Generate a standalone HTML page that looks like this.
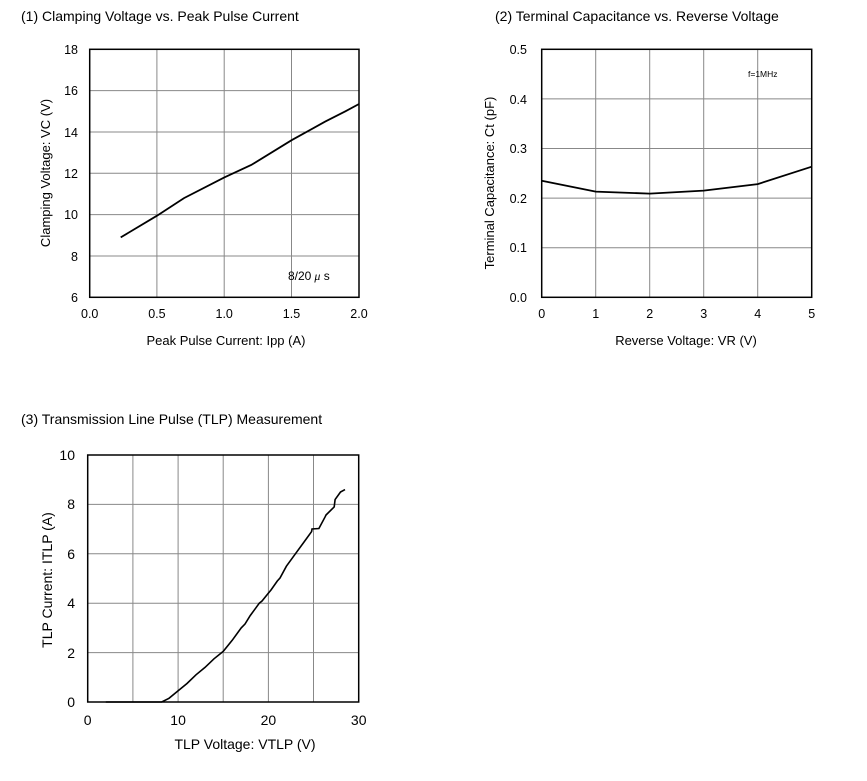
<!DOCTYPE html>
<html><head><meta charset="utf-8"><style>html,body{margin:0;padding:0;background:#fff;}svg{display:block}text{font-family:"Liberation Sans",Arial,sans-serif;fill:#000}</style></head><body>
<svg width="867" height="781" viewBox="0 0 867 781" xmlns="http://www.w3.org/2000/svg">
<g font-size="14">
<text x="21" y="21">(1) Clamping Voltage vs. Peak Pulse Current</text>
<text x="495" y="21">(2) Terminal Capacitance vs. Reverse Voltage</text>
<text x="21" y="424">(3) Transmission Line Pulse (TLP) Measurement</text>
</g>
<!-- Chart 1 -->
<g stroke="#888" stroke-width="1">
<line x1="156.9" y1="49.3" x2="156.9" y2="297.3"/><line x1="224.2" y1="49.3" x2="224.2" y2="297.3"/><line x1="291.5" y1="49.3" x2="291.5" y2="297.3"/>
<line x1="89.7" y1="90.6" x2="359" y2="90.6"/><line x1="89.7" y1="132" x2="359" y2="132"/><line x1="89.7" y1="173.3" x2="359" y2="173.3"/><line x1="89.7" y1="214.6" x2="359" y2="214.6"/><line x1="89.7" y1="256" x2="359" y2="256"/>
</g>
<rect x="89.7" y="49.3" width="269.3" height="248" fill="none" stroke="#000" stroke-width="1.5"/>
<polyline fill="none" stroke="#000" stroke-width="1.8" points="120.7,237.4 157,215.7 184,198.1 224.3,177.4 251.2,165 291.6,140.2 325.2,121.6 345.4,111.3 359,104"/>
<g font-size="12.5" text-anchor="end">
<text x="78" y="54">18</text><text x="78" y="95">16</text><text x="78" y="137">14</text><text x="78" y="178">12</text><text x="78" y="219">10</text><text x="78" y="261">8</text><text x="78" y="302">6</text>
</g>
<g font-size="12.5" text-anchor="middle">
<text x="89.7" y="318">0.0</text><text x="156.9" y="318">0.5</text><text x="224.2" y="318">1.0</text><text x="291.5" y="318">1.5</text><text x="359" y="318">2.0</text>
<text x="226" y="345" font-size="13">Peak Pulse Current: Ipp (A)</text>
</g>
<text x="288" y="280" font-size="12">8/20<tspan font-family="Liberation Serif" font-style="italic"> μ</tspan> s</text>
<text transform="translate(50,173) rotate(-90)" font-size="13" text-anchor="middle">Clamping Voltage: VC (V)</text>
<!-- Chart 2 -->
<g stroke="#888" stroke-width="1">
<line x1="595.7" y1="49.3" x2="595.7" y2="297.3"/><line x1="649.7" y1="49.3" x2="649.7" y2="297.3"/><line x1="703.7" y1="49.3" x2="703.7" y2="297.3"/><line x1="757.7" y1="49.3" x2="757.7" y2="297.3"/>
<line x1="541.7" y1="98.9" x2="811.7" y2="98.9"/><line x1="541.7" y1="148.5" x2="811.7" y2="148.5"/><line x1="541.7" y1="198.1" x2="811.7" y2="198.1"/><line x1="541.7" y1="247.7" x2="811.7" y2="247.7"/>
</g>
<rect x="541.7" y="49.3" width="270" height="248" fill="none" stroke="#000" stroke-width="1.5"/>
<polyline fill="none" stroke="#000" stroke-width="1.8" points="541.7,180.7 595.7,191.6 649.7,193.6 703.7,190.6 757.7,184.1 811.7,166.7"/>
<g font-size="12.5" text-anchor="end">
<text x="527" y="54">0.5</text><text x="527" y="104">0.4</text><text x="527" y="153">0.3</text><text x="527" y="203">0.2</text><text x="527" y="252">0.1</text><text x="527" y="302">0.0</text>
</g>
<g font-size="12.5" text-anchor="middle">
<text x="541.7" y="318">0</text><text x="595.7" y="318">1</text><text x="649.7" y="318">2</text><text x="703.7" y="318">3</text><text x="757.7" y="318">4</text><text x="811.7" y="318">5</text>
<text x="686" y="345" font-size="13">Reverse Voltage: VR (V)</text>
</g>
<text x="748" y="77" font-size="8.5">f=1MHz</text>
<text transform="translate(494,183) rotate(-90)" font-size="13" text-anchor="middle">Terminal Capacitance: Ct (pF)</text>
<!-- Chart 3 -->
<g stroke="#888" stroke-width="1">
<line x1="132.9" y1="455" x2="132.9" y2="702"/><line x1="178.1" y1="455" x2="178.1" y2="702"/><line x1="223.2" y1="455" x2="223.2" y2="702"/><line x1="268.4" y1="455" x2="268.4" y2="702"/><line x1="313.5" y1="455" x2="313.5" y2="702"/>
<line x1="87.7" y1="504.4" x2="358.7" y2="504.4"/><line x1="87.7" y1="553.8" x2="358.7" y2="553.8"/><line x1="87.7" y1="603.2" x2="358.7" y2="603.2"/><line x1="87.7" y1="652.6" x2="358.7" y2="652.6"/>
</g>
<rect x="87.7" y="455" width="271" height="247" fill="none" stroke="#000" stroke-width="1.5"/>
<polyline fill="none" stroke="#000" stroke-width="1.6" points="105.8,702 161.7,702 169,698.3 178,690.9 187,683.5 196,674.8 205,667.4 214,658.8 223.2,651.4 232.2,640.3 241.2,627.9 245,624 250.2,615.6 259.3,603.2 262,601 268.3,593.3 271,590 277.3,581 280,578 286.4,566.2 295.4,553.8 304.4,541.5 311.6,531.6 312,529 318.9,528.5 325.2,516.7 326,515 334.2,506.9 335.1,499.5 340.5,492 345,489.6"/>
<g font-size="14" text-anchor="end">
<text x="75" y="460">10</text><text x="75" y="509">8</text><text x="75" y="559">6</text><text x="75" y="608">4</text><text x="75" y="658">2</text><text x="75" y="707">0</text>
</g>
<g font-size="14" text-anchor="middle">
<text x="87.7" y="725">0</text><text x="178.1" y="725">10</text><text x="268.4" y="725">20</text><text x="358.7" y="725">30</text>
<text x="245" y="749">TLP Voltage: VTLP (V)</text>
</g>
<text transform="translate(52,580) rotate(-90)" font-size="14" text-anchor="middle">TLP Current: ITLP (A)</text>
</svg>
</body></html>
